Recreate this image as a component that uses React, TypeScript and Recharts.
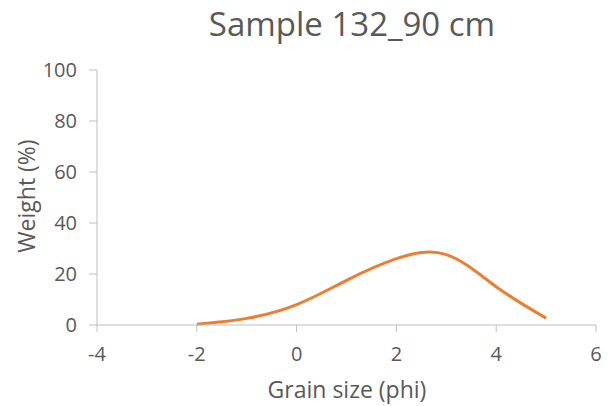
import { LineChart, Line, XAxis, YAxis } from 'recharts';

// Grain size distribution
const phi = [-2, -1, 0, 1, 2, 3, 4, 5];
const weight = [0.3, 2.6, 8, 17.5, 26, 27.6, 15, 2.7];
const xTicks = [-4, -2, 0, 2, 4, 6];
const yTicks = [0, 20, 40, 60, 80, 100];

const data = phi.map((p, i) => ({ phi: p, weight: weight[i] }));

const FONT = '"Open Sans", "Liberation Sans", sans-serif';
const TEXT = '#595959';
const AXIS = '#BFBFBF';

const YTitle = () => (
  <text
    x={26}
    y={196}
    transform="rotate(-90, 26, 196)"
    textAnchor="middle"
    dominantBaseline="central"
    fill={TEXT}
    fontSize={23}
    fontFamily={FONT}
  >
    Weight (%)
  </text>
);

const XTitle = () => (
  <text x={347} y={398} textAnchor="middle" fill={TEXT} fontSize={23} fontFamily={FONT}>
    Grain size (phi)
  </text>
);

export default function App() {
  return (
    <div style={{ position: 'absolute', left: 0, top: 0, width: 612, height: 406, background: '#fff' }}>
      <div
        style={{
          position: 'absolute',
          left: 0,
          top: 2,
          width: 612,
          textAlign: 'center',
          paddingLeft: 92,
          boxSizing: 'border-box',
          fontFamily: FONT,
          fontSize: 33,
          color: TEXT,
          lineHeight: '44px',
        }}
      >
        Sample 132_90 cm
      </div>
      <LineChart
        width={612}
        height={406}
        data={data}
        margin={{ top: 70, right: 16, left: 0, bottom: 0 }}
      >
        <XAxis
          dataKey="phi"
          type="number"
          domain={[-4, 6]}
          ticks={xTicks}
          height={81}
          stroke={AXIS}
          tickSize={7}
          tick={{ fill: TEXT, fontSize: 20, fontFamily: FONT }}
          tickMargin={15}
          label={<XTitle />}
        />
        <YAxis
          type="number"
          domain={[0, 100]}
          ticks={yTicks}
          width={97}
          stroke={AXIS}
          tickSize={8}
          tick={{ fill: TEXT, fontSize: 20, fontFamily: FONT }}
          tickMargin={12}
          label={<YTitle />}
        />
        <Line
          type="natural"
          dataKey="weight"
          stroke="#ED7D31"
          strokeWidth={3}
          dot={false}
          isAnimationActive={false}
        />
      </LineChart>
    </div>
  );
}
